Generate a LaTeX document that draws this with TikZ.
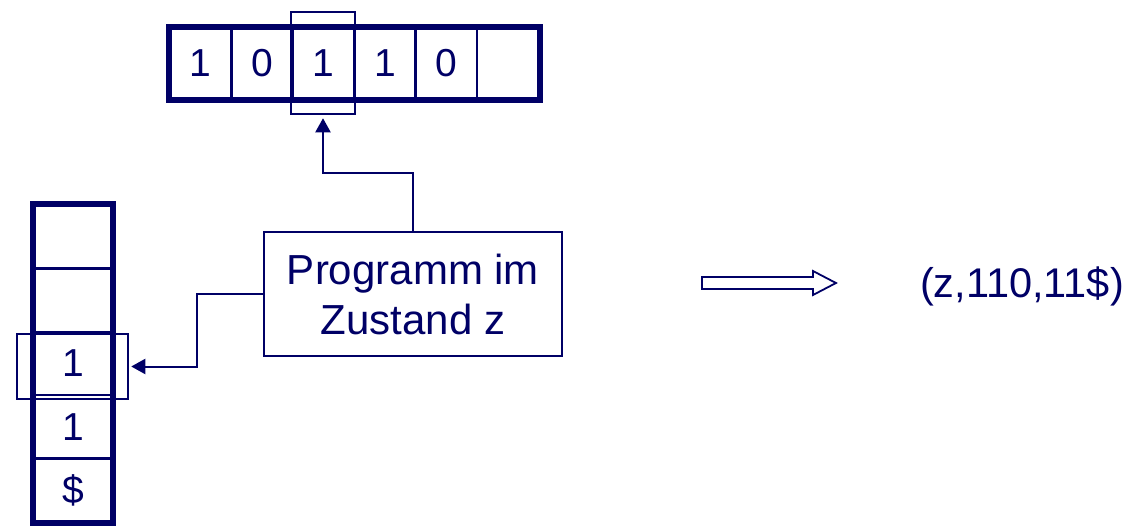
\documentclass[tikz,border=0pt]{standalone}
\usepackage{fontspec}
\setmainfont{Liberation Sans}
\usetikzlibrary{arrows.meta,calc}
\definecolor{navy}{RGB}{0,0,102}
\begin{document}
\begin{tikzpicture}[x=1pt,y=-1pt,
  every node/.style={text=navy},
  cell/.style={draw=navy,line width=2.5pt,inner sep=0pt,font=\fontsize{39}{44}\selectfont},
  tapecell/.style={cell,minimum width=61.4pt,minimum height=70pt},
  stackcell/.style={cell,minimum width=78pt,minimum height=63.4pt},
  frame/.style={draw=navy,line width=6pt},
  headbox/.style={draw=navy,line width=2.5pt,inner sep=0pt},
  conn/.style={draw=navy,line width=2pt,-{Triangle[length=14pt,width=15pt]}},
  prog/.style={draw=navy,line width=2pt,align=center,inner sep=0pt,
    minimum width=298pt,minimum height=124pt,font=\fontsize{42}{50}\selectfont}]
\useasboundingbox (0,0) rectangle (1128,527);

% tape
\foreach \s [count=\i] in {1,0,1,1,0,{}} {
  \node[tapecell] (t\i) at ({170+61.4*(\i-0.5)},63.5) {\s};
}
\draw[frame] (t1.north west) rectangle (t6.south east);
\node[headbox,minimum width=64pt,minimum height=102pt] (headT) at (323,63) {};

% stack
\foreach \s [count=\i] in {{},{},1,1,\$} {
  \node[stackcell] (s\i) at (73,{205+63.4*(\i-0.5)}) {\s};
}
\draw[frame] (s1.north west) rectangle (s5.south east);
\node[headbox,minimum width=111pt,minimum height=65pt] (headS) at (72.5,366.5) {};

% control unit
\node[prog] (p) at (413,294) {Programm im\\Zustand z};

\draw[conn] (p.north) -- (p.north |- 0,173) -| ([yshift=-3pt]headT.south);
\draw[conn] (p.west) -- (p.west -| 197,0) |- ([xshift=2pt]headS.east);

% transition arrow
\draw[navy,line width=1.8pt,line join=miter]
  (702,277) -- (813,277) -- (813,271) -- (836,283) -- (813,295) -- (813,289) -- (702,289) -- cycle;

\node[font=\fontsize{41.5}{48}\selectfont] (cfg) at (1022,286) {(z,110,11\$)};
\end{tikzpicture}
\end{document}
